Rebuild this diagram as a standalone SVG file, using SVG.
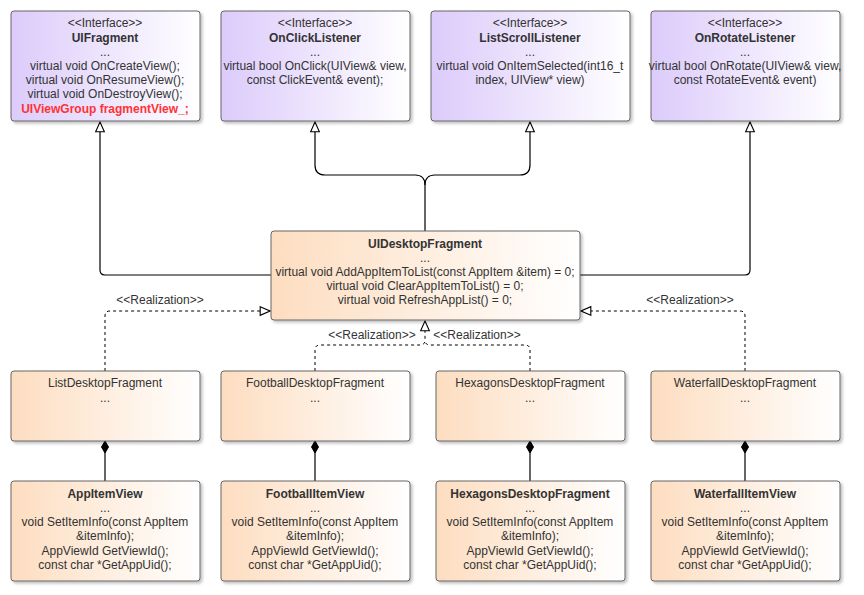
<svg xmlns="http://www.w3.org/2000/svg" width="864" height="595" viewBox="0 0 864 595">
<defs>
<linearGradient id="gp" x1="0" x2="1" y1="0" y2="0"><stop offset="0" stop-color="#dccbfb"/><stop offset="1" stop-color="#ffffff"/></linearGradient>
<linearGradient id="go" x1="0" x2="1" y1="0" y2="0"><stop offset="0" stop-color="#fdddc0"/><stop offset="1" stop-color="#ffffff"/></linearGradient>
<filter id="sh" x="-10%" y="-10%" width="130%" height="130%"><feDropShadow dx="2" dy="2" stdDeviation="1.5" flood-color="#000" flood-opacity="0.25"/></filter>
<marker id="tri" markerWidth="12" markerHeight="12" refX="10" refY="5" orient="auto" markerUnits="userSpaceOnUse" viewBox="0 0 11 10"><path d="M1,1 L10,5 L1,9 Z" fill="#fff" stroke="#000"/></marker>
<marker id="dia" markerWidth="16" markerHeight="12" refX="1" refY="5" orient="auto" markerUnits="userSpaceOnUse" viewBox="0 0 16 10"><path d="M1,5 L7,1.5 L13,5 L7,8.5 Z" fill="#000" stroke="#000"/></marker>
</defs>
<style>
.p{fill:url(#gp);stroke:#666;filter:url(#sh)}
.o{fill:url(#go);stroke:#666;filter:url(#sh)}
text{font-family:"Liberation Sans",Arial,sans-serif;font-size:12px;fill:#333;text-anchor:middle}
.b{font-weight:bold;font-size:12px}
.r{fill:#ff3333;font-weight:bold;font-size:12px}
.l{fill:none;stroke:#000;stroke-width:1.2}
.d{fill:none;stroke:#000;stroke-dasharray:3,3}
</style>
<g id="connectors">
<path class="l" d="M271,275 H105 Q100,275 100,270 V122" marker-end="url(#tri)"/>
<path class="l" d="M580,275 H745 Q750,275 750,270 V122" marker-end="url(#tri)"/>
<path class="l" d="M425,231 V185 Q425,175 415,175 H325 Q315,175 315,165 V122" marker-end="url(#tri)"/>
<path class="l" d="M425,185 Q425,175 435,175 H520 Q530,175 530,165 V122" marker-end="url(#tri)"/>
<path class="d" d="M105,371 V316 Q105,311 110,311 H270" marker-end="url(#tri)"/>
<path class="d" d="M745,371 V316 Q745,311 740,311 H581" marker-end="url(#tri)"/>
<path class="d" d="M315,371 V350 Q315,345 320,345 H420 Q425,345 425,340 V321" marker-end="url(#tri)"/>
<path class="d" d="M530,371 V350 Q530,345 525,345 H430 Q425,345 425,340"/>
<text x="160" y="304">&lt;&lt;Realization&gt;&gt;</text>
<text x="690" y="304">&lt;&lt;Realization&gt;&gt;</text>
<text x="372" y="339">&lt;&lt;Realization&gt;&gt;</text>
<text x="477" y="339">&lt;&lt;Realization&gt;&gt;</text>
<path class="l" d="M105,441 V481" marker-start="url(#dia)"/>
<path class="l" d="M315,441 V481" marker-start="url(#dia)"/>
<path class="l" d="M530,441 V481" marker-start="url(#dia)"/>
<path class="l" d="M745,441 V481" marker-start="url(#dia)"/>
</g>
<g id="UIFragment"><rect class="p" x="11" y="11" width="189" height="110" rx="3"/>
<text x="105" y="27">&lt;&lt;Interface&gt;&gt;</text><text class="b" x="105" y="42">UIFragment</text><text x="105" y="56">...</text>
<text x="105" y="70">virtual void OnCreateView();</text><text x="105" y="84">virtual void OnResumeView();</text><text x="105" y="98">virtual void OnDestroyView();</text><text class="r" x="105" y="113">UIViewGroup fragmentView_;</text></g>
<g id="OnClickListener"><rect class="p" x="221" y="11" width="189" height="110" rx="3"/>
<text x="315" y="27">&lt;&lt;Interface&gt;&gt;</text><text class="b" x="315" y="42">OnClickListener</text><text x="315" y="56">...</text>
<text x="315" y="70">virtual bool OnClick(UIView&amp; view,</text><text x="315" y="84">const ClickEvent&amp; event);</text></g>
<g id="ListScrollListener"><rect class="p" x="431" y="11" width="199" height="110" rx="3"/>
<text x="530" y="27">&lt;&lt;Interface&gt;&gt;</text><text class="b" x="530" y="42">ListScrollListener</text><text x="530" y="56">...</text>
<text x="530" y="70">virtual void OnItemSelected(int16_t</text><text x="530" y="84">index, UIView* view)</text></g>
<g id="OnRotateListener"><rect class="p" x="651" y="11" width="189" height="110" rx="3"/>
<text x="745" y="27">&lt;&lt;Interface&gt;&gt;</text><text class="b" x="745" y="42">OnRotateListener</text><text x="745" y="56">...</text>
<text x="745" y="70">virtual bool OnRotate(UIView&amp; view,</text><text x="745" y="84">const RotateEvent&amp; event)</text></g>
<g id="UIDesktopFragment"><rect class="o" x="271" y="231" width="309" height="89" rx="3"/>
<text class="b" x="425" y="248">UIDesktopFragment</text><text x="425" y="262">...</text>
<text x="425" y="276">virtual void AddAppItemToList(const AppItem &amp;item) = 0;</text>
<text x="425" y="290">virtual void ClearAppItemToList() = 0;</text>
<text x="425" y="304">virtual void RefreshAppList() = 0;</text></g>
<g id="ListDesktopFragment"><rect class="o" x="11" y="371" width="189" height="70" rx="3"/><text x="105" y="387">ListDesktopFragment</text><text x="105" y="402">...</text></g>
<g id="FootballDesktopFragment"><rect class="o" x="221" y="371" width="189" height="70" rx="3"/><text x="315" y="387">FootballDesktopFragment</text><text x="315" y="402">...</text></g>
<g id="HexagonsDesktopFragment"><rect class="o" x="436" y="371" width="189" height="70" rx="3"/><text x="530" y="387">HexagonsDesktopFragment</text><text x="530" y="402">...</text></g>
<g id="WaterfallDesktopFragment"><rect class="o" x="651" y="371" width="189" height="70" rx="3"/><text x="745" y="387">WaterfallDesktopFragment</text><text x="745" y="402">...</text></g>
<g id="AppItemView"><rect class="o" x="11" y="481" width="189" height="100" rx="3"/><text class="b" x="105" y="498">AppItemView</text><text x="105" y="512">...</text><text x="105" y="526">void SetItemInfo(const AppItem</text><text x="105" y="540">&amp;itemInfo);</text><text x="105" y="555">AppViewId GetViewId();</text><text x="105" y="569">const char *GetAppUid();</text></g>
<g id="FootballItemView"><rect class="o" x="221" y="481" width="189" height="100" rx="3"/><text class="b" x="315" y="498">FootballItemView</text><text x="315" y="512">...</text><text x="315" y="526">void SetItemInfo(const AppItem</text><text x="315" y="540">&amp;itemInfo);</text><text x="315" y="555">AppViewId GetViewId();</text><text x="315" y="569">const char *GetAppUid();</text></g>
<g id="HexagonsItemView"><rect class="o" x="436" y="481" width="189" height="100" rx="3"/><text class="b" x="530" y="498">HexagonsDesktopFragment</text><text x="530" y="512">...</text><text x="530" y="526">void SetItemInfo(const AppItem</text><text x="530" y="540">&amp;itemInfo);</text><text x="530" y="555">AppViewId GetViewId();</text><text x="530" y="569">const char *GetAppUid();</text></g>
<g id="WaterfallItemView"><rect class="o" x="651" y="481" width="189" height="100" rx="3"/><text class="b" x="745" y="498">WaterfallItemView</text><text x="745" y="512">...</text><text x="745" y="526">void SetItemInfo(const AppItem</text><text x="745" y="540">&amp;itemInfo);</text><text x="745" y="555">AppViewId GetViewId();</text><text x="745" y="569">const char *GetAppUid();</text></g>
</svg>
